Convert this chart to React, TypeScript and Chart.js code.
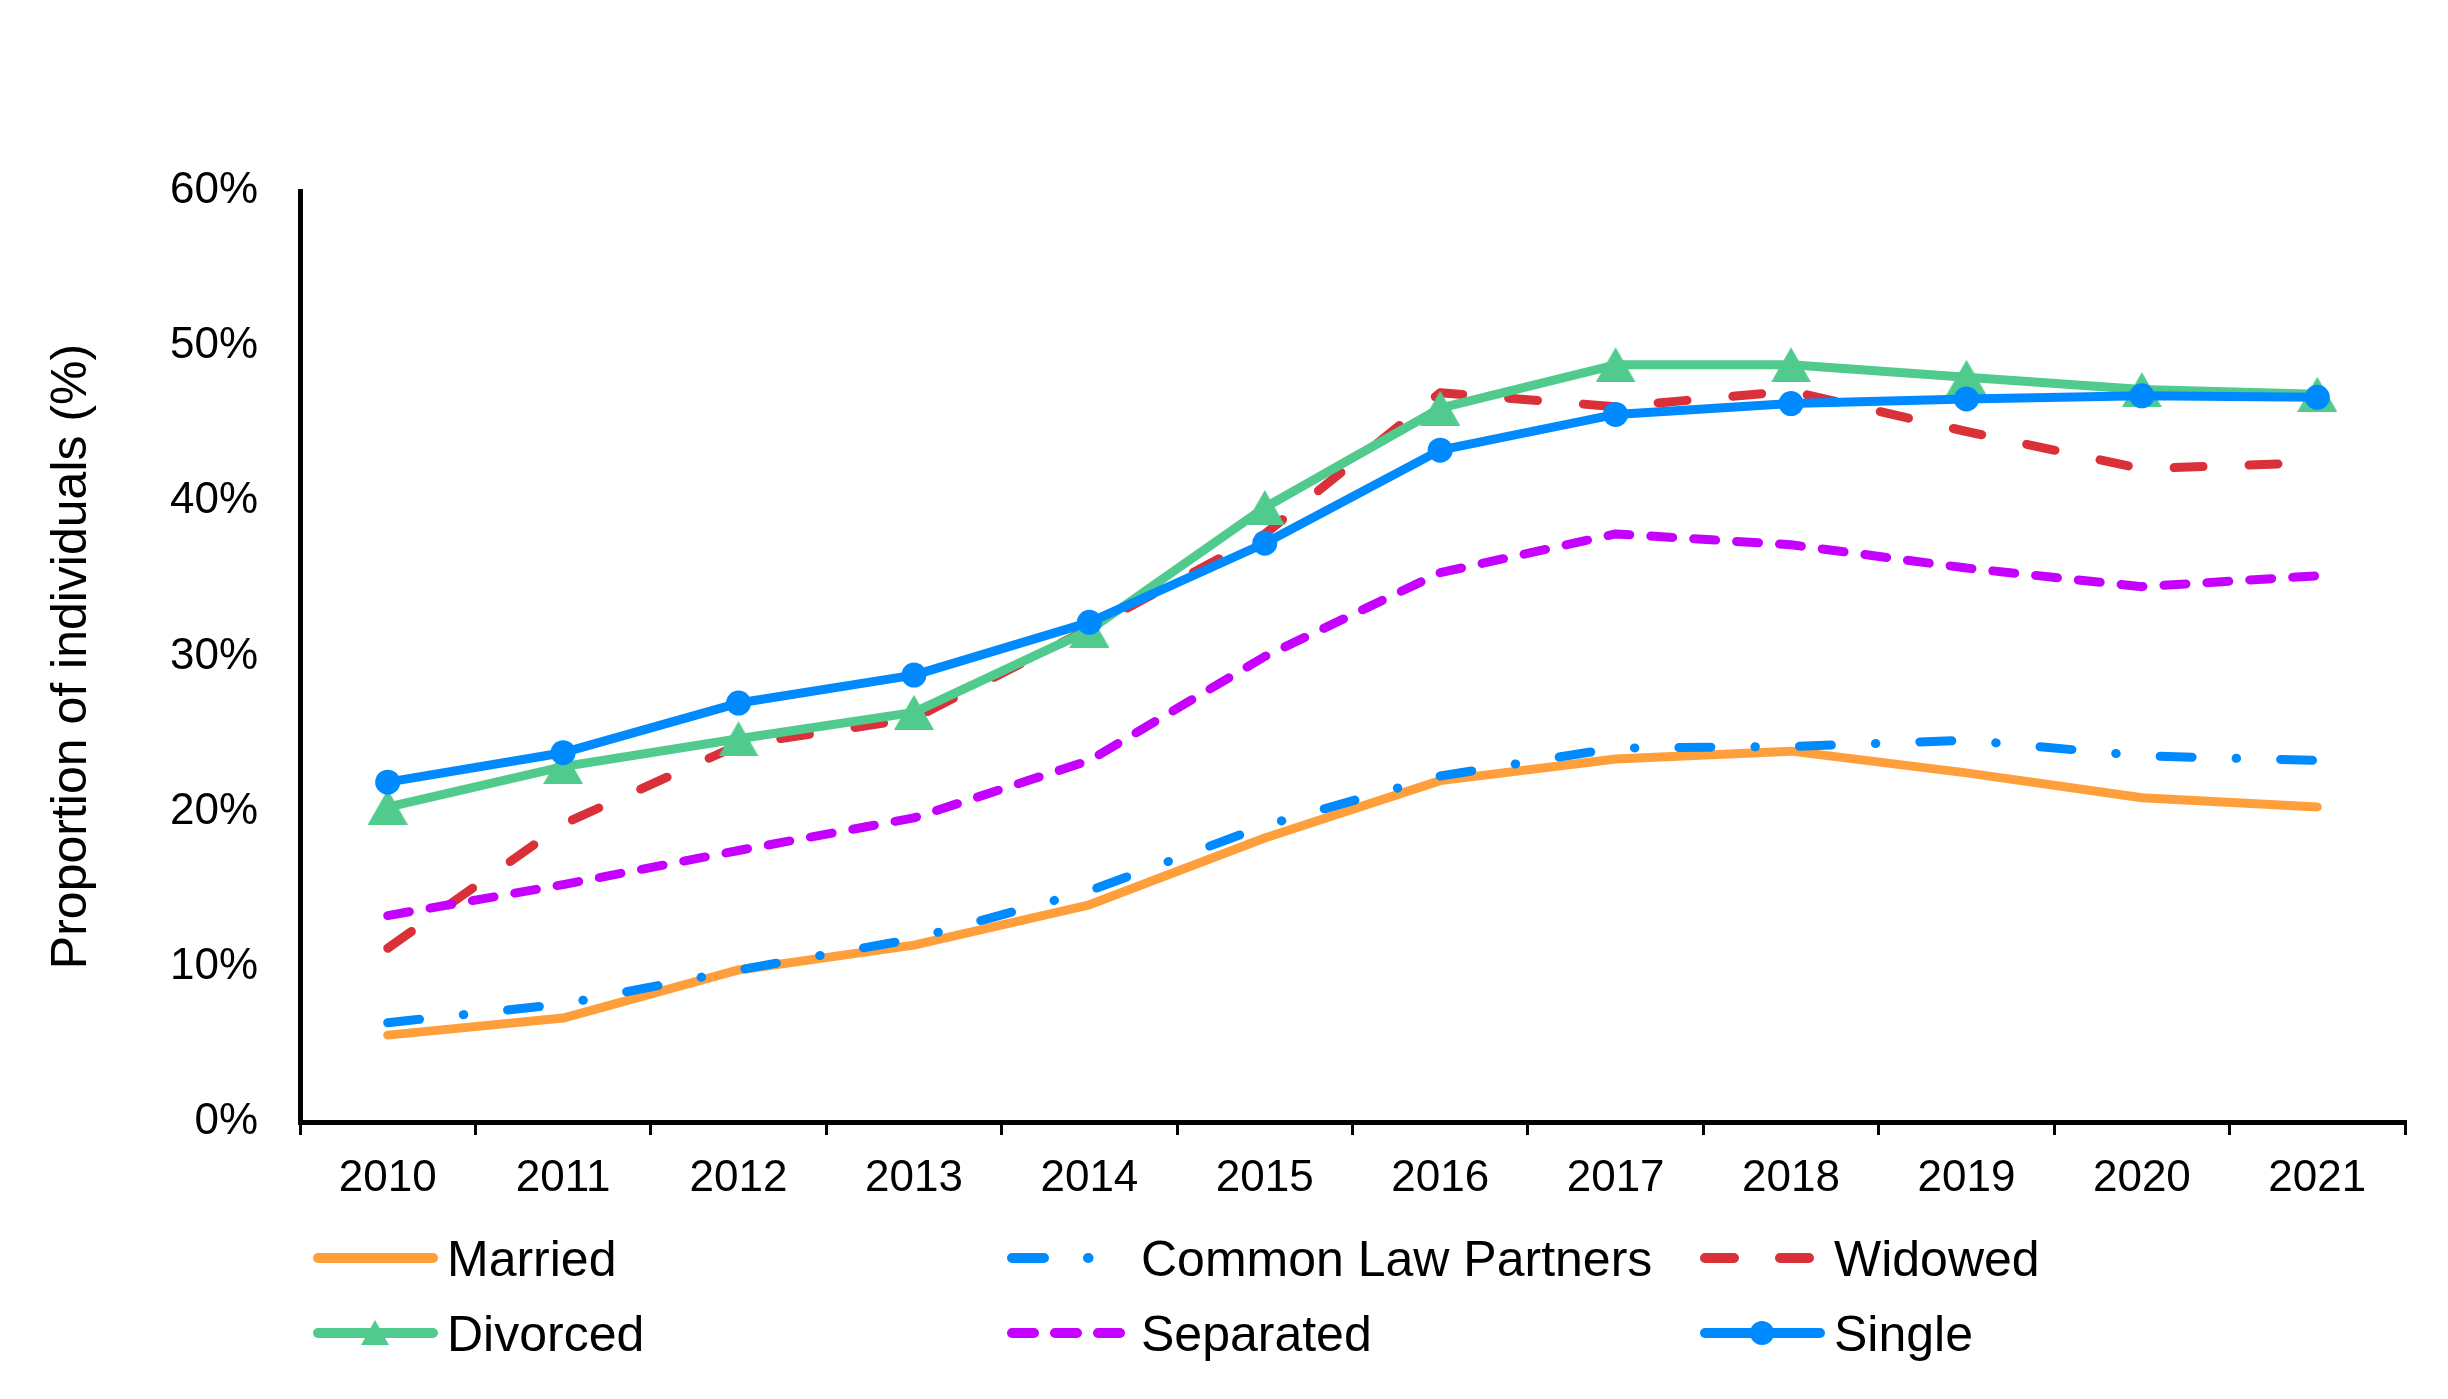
import React, { useEffect, useRef } from 'react';
import { Chart, registerables } from 'chart.js';

Chart.register(...registerables);

const years = ['2010', '2011', '2012', '2013', '2014', '2015', '2016', '2017', '2018', '2019', '2020', '2021'];
const married = [5.6, 6.7, 9.8, 11.4, 14.0, 18.3, 22.0, 23.4, 23.9, 22.5, 20.9, 20.3];
const commonLaw = [6.4, 7.6, 9.8, 11.8, 14.9, 19.1, 22.3, 24.1, 24.2, 24.6, 23.6, 23.3];
const widowed = [11.2, 19.2, 24.3, 26.0, 31.8, 37.9, 47.0, 46.1, 47.1, 44.5, 42.1, 42.5];
const divorced = [20.3, 22.9, 24.7, 26.4, 31.7, 39.6, 46.0, 48.8, 48.8, 48.0, 47.2, 46.9];
const separated = [13.3, 15.3, 17.5, 19.6, 23.3, 30.0, 35.4, 37.9, 37.2, 35.7, 34.5, 35.2];
const single = [21.9, 23.8, 27.0, 28.8, 32.2, 37.3, 43.3, 45.6, 46.3, 46.6, 46.8, 46.7];
const seriesNames = ['Married', 'Common Law Partners', 'Widowed', 'Divorced', 'Separated', 'Single'];

const FONT = '"Liberation Sans", Arial, Helvetica, sans-serif';
const ORANGE = '#FF9F3B';
const BLUE = '#008AFF';
const RED = '#D9303A';
const GREEN = '#50CB8D';
const PURPLE = '#C500FF';

const LEGEND_X = [313, 1007, 1700];
const LEGEND_Y = [1258, 1333];

function triangleImage(w: number, h: number, color: string) {
  const c = document.createElement('canvas');
  c.width = w;
  c.height = h;
  const g = c.getContext('2d')!;
  g.fillStyle = color;
  g.beginPath();
  g.moveTo(w / 2, 0);
  g.lineTo(w, h);
  g.lineTo(0, h);
  g.closePath();
  g.fill();
  return c;
}

const legendPlugin = {
  id: 'columnLegend',
  afterDraw(chart: any) {
    const ctx: CanvasRenderingContext2D = chart.ctx;
    chart.data.datasets.forEach((ds: any, i: number) => {
      const col = i % 3;
      const row = Math.floor(i / 3);
      const x0 = LEGEND_X[col];
      const yc = LEGEND_Y[row];
      ctx.save();
      ctx.strokeStyle = ds.borderColor;
      ctx.lineWidth = 10;
      ctx.lineCap = 'round';
      ctx.setLineDash(ds.borderDash || []);
      ctx.beginPath();
      ctx.moveTo(x0 + 5, yc);
      ctx.lineTo(x0 + 120, yc);
      ctx.stroke();
      ctx.setLineDash([]);
      const mx = x0 + 62;
      if (ds.legendMarker === 'circle') {
        ctx.fillStyle = ds.borderColor;
        ctx.beginPath();
        ctx.arc(mx, yc, 12, 0, Math.PI * 2);
        ctx.fill();
      } else if (ds.legendMarker === 'triangle') {
        ctx.fillStyle = ds.borderColor;
        ctx.beginPath();
        ctx.moveTo(mx, yc - 13);
        ctx.lineTo(mx + 14, yc + 12);
        ctx.lineTo(mx - 14, yc + 12);
        ctx.closePath();
        ctx.fill();
      }
      ctx.font = '50px ' + FONT;
      ctx.fillStyle = '#000';
      ctx.textAlign = 'left';
      ctx.textBaseline = 'alphabetic';
      ctx.fillText(ds.label, x0 + 134, yc + 18);
      ctx.restore();
    });
  },
};

export default function App() {
  const canvasRef = useRef<HTMLCanvasElement | null>(null);

  useEffect(() => {
    document.body.style.margin = '0';
    const canvas = canvasRef.current;
    if (!canvas) return;
    const tri = triangleImage(40, 35, GREEN);
    const base = {
      fill: false,
      tension: 0,
      borderWidth: 9,
      borderCapStyle: 'round' as const,
      borderJoinStyle: 'round' as const,
      pointRadius: 0,
      pointHoverRadius: 0,
    };
    const chart = new Chart(canvas, {
      type: 'line',
      data: {
        labels: years,
        datasets: [
          { ...base, label: seriesNames[0], data: married, borderColor: ORANGE, backgroundColor: ORANGE, order: 5 },
          { ...base, label: seriesNames[1], data: commonLaw, borderColor: BLUE, backgroundColor: BLUE, borderDash: [32, 44, 0.5, 44], order: 4 },
          { ...base, label: seriesNames[2], data: widowed, borderColor: RED, backgroundColor: RED, borderDash: [29, 46], order: 3 },
          {
            ...base,
            label: seriesNames[3],
            data: divorced,
            borderColor: GREEN,
            backgroundColor: GREEN,
            pointStyle: tri,
            pointRadius: 20,
            pointBorderWidth: 0,
            legendMarker: 'triangle',
            order: 2,
          } as any,
          { ...base, label: seriesNames[4], data: separated, borderColor: PURPLE, backgroundColor: PURPLE, borderDash: [22, 21], order: 1 },
          {
            ...base,
            label: seriesNames[5],
            data: single,
            borderColor: BLUE,
            backgroundColor: BLUE,
            pointStyle: 'circle',
            pointRadius: 12.5,
            pointBorderWidth: 0,
            pointBackgroundColor: BLUE,
            legendMarker: 'circle',
            order: 0,
          } as any,
        ],
      },
      options: {
        animation: false,
        responsive: true,
        maintainAspectRatio: false,
        events: [],
        layout: { padding: { top: 191, left: 0, right: 43, bottom: 167 } },
        plugins: {
          legend: { display: false },
          tooltip: { enabled: false },
          title: { display: false },
        },
        scales: {
          x: {
            type: 'category',
            offset: true,
            grid: {
              display: true,
              offset: true,
              drawOnChartArea: false,
              drawTicks: true,
              tickLength: 13,
              lineWidth: 3,
              color: '#000',
              tickColor: '#000',
            },
            border: { display: true, color: '#000', width: 5 },
            ticks: {
              color: '#000',
              font: { family: FONT, size: 44 },
              padding: 17,
              maxRotation: 0,
              autoSkip: false,
            },
            afterFit: (scale: any) => {
              scale.height = 110;
            },
          },
          y: {
            min: 0,
            max: 60,
            grid: { display: false, drawTicks: false },
            border: { display: true, color: '#000', width: 5 },
            ticks: {
              stepSize: 10,
              color: '#000',
              font: { family: FONT, size: 44 },
              padding: 42,
              callback: (v: any) => v + '%',
            },
            title: {
              display: true,
              text: 'Proportion of individuals (%)',
              color: '#000',
              font: { family: FONT, size: 50 },
              padding: { top: 42, bottom: 0 },
            },
            afterFit: (scale: any) => {
              scale.width = 300;
            },
          },
        },
      },
      plugins: [legendPlugin],
    } as any);
    return () => chart.destroy();
  }, []);

  return (
    <div style={{ width: '2448px', height: '1399px', position: 'relative', background: '#fff' }}>
      <canvas ref={canvasRef} />
    </div>
  );
}
